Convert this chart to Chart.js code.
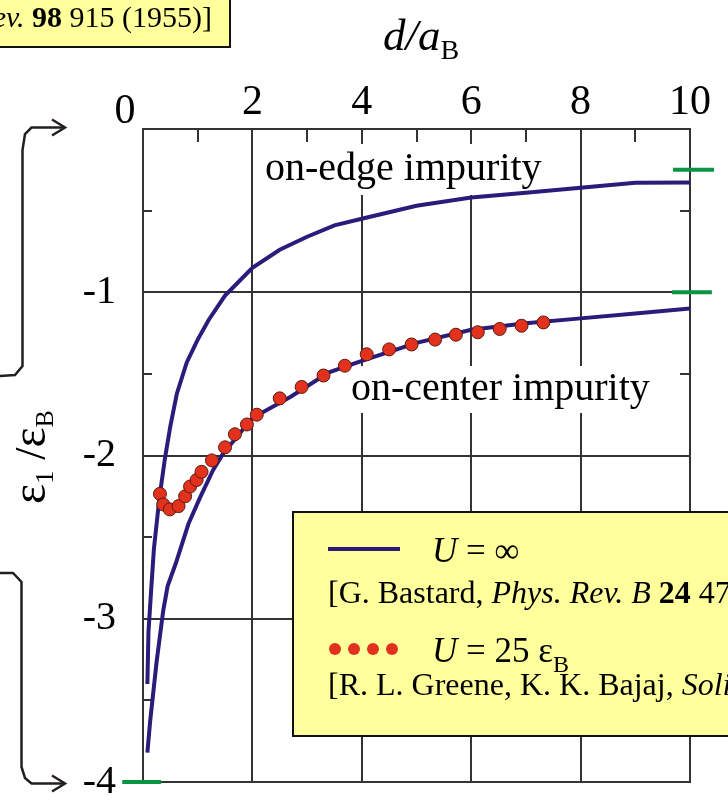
<!DOCTYPE html>
<html>
<head>
<meta charset="utf-8">
<script src="https://cdn.jsdelivr.net/npm/chart.js@4.4.1/dist/chart.umd.min.js"></script>
<style>
  html, body { margin: 0; padding: 0; background: #fff; }
  #wrap { position: relative; width: 728px; height: 807px; }
</style>
</head>
<body>
<div id="wrap"><canvas id="bindingChart"></canvas></div>
<script>
// ============================
// Data
// ============================
const xTicks = [0, 2, 4, 6, 8, 10];
const yTicks = [0, -1, -2, -3, -4];
const xMinor = [1, 3, 5, 7, 9];
const yMinorLeft = [-0.5, -1.5, -2.5, -3.5];
const yMinorRight = [-0.5, -1.5];

// U = infinity, on-edge impurity
const edgeX = [0.08, 0.1, 0.15, 0.2, 0.3, 0.4, 0.5, 0.62, 0.8, 1.0, 1.2, 1.5, 2.0, 2.5, 3.0, 3.5, 4.0, 5.0, 6.0, 7.0, 8.0, 9.0, 10];
const edgeY = [-3.40, -3.08, -2.82, -2.57, -2.26, -2.02, -1.82, -1.62, -1.43, -1.29, -1.17, -1.02, -0.85, -0.74, -0.66, -0.59, -0.55, -0.47, -0.42, -0.39, -0.36, -0.33, -0.327];

// U = infinity, on-center impurity
const centerX = [0.08, 0.13, 0.25, 0.37, 0.45, 0.6, 0.83, 1.04, 1.28, 1.46, 2.0, 2.7, 3.4, 4.0, 5.0, 6.0, 7.0, 8.0, 9.0, 10];
const centerY = [-3.82, -3.63, -3.26, -2.95, -2.80, -2.66, -2.42, -2.26, -2.09, -1.99, -1.77, -1.64, -1.49, -1.42, -1.31, -1.23, -1.19, -1.16, -1.13, -1.10];

// U = 25 eps_B
const dotX = [0.31, 0.37, 0.49, 0.65, 0.77, 0.86, 0.98, 1.07, 1.26, 1.50, 1.68, 1.90, 2.08, 2.50, 2.90, 3.30, 3.69, 4.09, 4.50, 4.91, 5.34, 5.72, 6.12, 6.52, 6.92, 7.32];
const dotY = [-2.235, -2.30, -2.33, -2.31, -2.25, -2.19, -2.15, -2.10, -2.03, -1.95, -1.87, -1.81, -1.75, -1.65, -1.58, -1.51, -1.45, -1.38, -1.35, -1.32, -1.29, -1.26, -1.245, -1.225, -1.205, -1.185];

// green limit markers
const markLevels = [-0.25, -1, -4];
const markFrom = [9.69, 9.67, -0.38];
const markTo = [10.44, 10.40, 0.33];

// ============================
// Helpers
// ============================
const SERIF = '"Liberation Serif", "Times New Roman", Times, serif';
const font = (size, style) => (style ? style + ' ' : '') + size + 'px ' + SERIF;

const NAVY = "#2b1b7b";
const RED = "#e2321e";
const GREEN = "#0b9444";
const YELLOW = "#ffff9c";

function pts(xs, ys) {
    return xs.map((x, i) => ({ x: x, y: ys[i] }));
}

// draw a run of text pieces: [text, font, dy]
function drawRuns(ctx, x, y, parts, align) {
    let w = 0;
    parts.forEach(p => { ctx.font = p[1]; w += ctx.measureText(p[0]).width; });
    let cx = align === "right" ? x - w : align === "center" ? x - w / 2 : x;
    ctx.textAlign = "left";
    ctx.textBaseline = "alphabetic";
    parts.forEach(p => {
        ctx.font = p[1];
        ctx.fillText(p[0], cx, y + (p[2] || 0));
        cx += ctx.measureText(p[0]).width;
    });
}

function bracket(ctx, pts, tip) {
    ctx.beginPath();
    ctx.moveTo(pts[0][0], pts[0][1]);
    for (let i = 1; i < pts.length; i++) ctx.lineTo(pts[i][0], pts[i][1]);
    ctx.stroke();
    ctx.beginPath();
    ctx.moveTo(tip[0] - 13, tip[1] - 8);
    ctx.lineTo(tip[0], tip[1]);
    ctx.lineTo(tip[0] - 13, tip[1] + 8);
    ctx.stroke();
}

// ============================
// Decorations plugin
// ============================
const decor = {
    id: "decor",
    beforeDatasetsDraw(chart) {
        const { ctx, chartArea: a } = chart;
        ctx.save();
        // white backing behind the curve labels
        ctx.fillStyle = "#fff";
        ctx.fillRect(262, 144, 284, 51);
        ctx.fillRect(347, 366, 305, 47);
        // frame
        ctx.strokeStyle = "#333";
        ctx.lineWidth = 2;
        ctx.strokeRect(a.left, a.top, a.right - a.left, a.bottom - a.top);
        // minor ticks
        const xs = chart.scales.x, ys = chart.scales.y;
        ctx.beginPath();
        xMinor.forEach(v => {
            const px = Math.round(xs.getPixelForValue(v));
            ctx.moveTo(px, a.top); ctx.lineTo(px, a.top + 13);
        });
        yMinorLeft.forEach(v => {
            const py = Math.round(ys.getPixelForValue(v));
            ctx.moveTo(a.left, py); ctx.lineTo(a.left + 9, py);
        });
        yMinorRight.forEach(v => {
            const py = Math.round(ys.getPixelForValue(v));
            ctx.moveTo(a.right - 10, py); ctx.lineTo(a.right, py);
        });
        ctx.stroke();
        ctx.restore();
    },
    afterDraw(chart) {
        const { ctx } = chart;
        const xs = chart.scales.x;
        ctx.save();
        ctx.fillStyle = "#000";

        // "0" tick label sits left of the axis corner
        ctx.font = font(42);
        ctx.textAlign = "center";
        ctx.fillText("0", xs.getPixelForValue(0) - 18, 123);

        // axis titles
        drawRuns(ctx, 383, 50, [["d/a", font(45, "italic")], ["B", font(28), 9]]);
        ctx.save();
        ctx.translate(45, 504);
        ctx.rotate(-Math.PI / 2);
        drawRuns(ctx, 0, 0, [["ε", font(48)], ["1", font(26), 8], [" /", font(44)], ["ε", font(48)], ["B", font(26), 8]]);
        ctx.restore();

        // curve labels
        drawRuns(ctx, 265, 180, [["on-edge impurity", font(40)]]);
        drawRuns(ctx, 351, 400, [["on-center impurity", font(40)]]);

        // reference box at top left
        ctx.fillStyle = YELLOW;
        ctx.fillRect(-5, -5, 235, 52);
        ctx.strokeStyle = "#111";
        ctx.lineWidth = 2;
        ctx.strokeRect(-5, -5, 235, 52);
        ctx.fillStyle = "#000";
        drawRuns(ctx, 212, 27, [
            ["[W. Kohn, J. M. Luttinger, ", font(30)],
            ["Phys. Rev.", font(30, "italic")],
            [" ", font(30)],
            ["98", font(30, "bold")],
            [" 915 (1955)]", font(30)]
        ], "right");

        // legend box
        ctx.fillStyle = YELLOW;
        ctx.fillRect(293, 512, 450, 224);
        ctx.strokeStyle = "#111";
        ctx.lineWidth = 2;
        ctx.strokeRect(293, 512, 450, 224);

        ctx.strokeStyle = NAVY;
        ctx.lineWidth = 4;
        ctx.beginPath();
        ctx.moveTo(328, 549); ctx.lineTo(400, 549);
        ctx.stroke();

        ctx.fillStyle = RED;
        [335, 354, 373, 392].forEach(px => {
            ctx.beginPath();
            ctx.arc(px, 649, 6, 0, Math.PI * 2);
            ctx.fill();
        });

        ctx.fillStyle = "#000";
        drawRuns(ctx, 432, 562, [["U", font(35, "italic")], [" = ∞", font(35)]]);
        drawRuns(ctx, 328, 603, [
            ["[G. Bastard, ", font(32)],
            ["Phys. Rev. B", font(32, "italic")],
            [" ", font(32)],
            ["24", font(32, "bold")],
            [" 4714 (1981)]", font(32)]
        ]);
        drawRuns(ctx, 432, 662, [["U", font(35, "italic")], [" = 25 ε", font(35)], ["B", font(24), 10]]);
        drawRuns(ctx, 328, 695, [
            ["[R. L. Greene, K. K. Bajaj, ", font(32)],
            ["Solid State Commun.", font(32, "italic")],
            [" ", font(32)],
            ["45", font(32, "bold")],
            [" 825 (1983)]", font(32)]
        ]);

        // brackets with arrows on the left
        ctx.strokeStyle = "#231f20";
        ctx.lineWidth = 2.5;
        bracket(ctx, [[-2, 376], [15, 375], [22.5, 366], [22.5, 150], [25, 134], [31.5, 127.5], [65, 127.5]], [65, 127.5]);
        bracket(ctx, [[-2, 573], [13, 573], [21.5, 582], [21.5, 767], [25, 778], [31.5, 783.5], [65, 783.5]], [65, 783.5]);

        ctx.restore();
    }
};

// ============================
// Chart
// ============================
const datasets = [
    {
        label: "U = 25",
        data: pts(dotX, dotY),
        showLine: false,
        pointRadius: 6.5,
        pointBackgroundColor: RED,
        pointBorderColor: "#5a1a10",
        pointBorderWidth: 1,
        order: 0
    },
    {
        label: "on-edge",
        data: pts(edgeX, edgeY),
        borderColor: NAVY,
        borderWidth: 4,
        pointRadius: 0,
        tension: 0,
        order: 1
    },
    {
        label: "on-center",
        data: pts(centerX, centerY),
        borderColor: NAVY,
        borderWidth: 4,
        pointRadius: 0,
        tension: 0,
        order: 1
    }
];

markLevels.forEach((lvl, i) => {
    datasets.push({
        label: "limit " + lvl,
        data: [{ x: markFrom[i], y: lvl }, { x: markTo[i], y: lvl }],
        borderColor: GREEN,
        borderWidth: 4,
        pointRadius: 0,
        clip: false,
        order: 2
    });
});

new Chart(document.getElementById("bindingChart"), {
    type: "line",
    data: { datasets: datasets },
    options: {
        responsive: true,
        maintainAspectRatio: false,
        animation: false,
        layout: { padding: { left: 0, top: 0, right: 38, bottom: 25 } },
        plugins: {
            legend: { display: false },
            tooltip: { enabled: false }
        },
        scales: {
            x: {
                type: "linear",
                position: "top",
                min: 0,
                max: 10,
                afterBuildTicks: s => { s.ticks = xTicks.map(v => ({ value: v })); },
                afterFit: s => { s.height = 129; s.paddingLeft = 0; s.paddingRight = 0; },
                grid: { color: "#333", lineWidth: 2, drawTicks: false },
                border: { display: false },
                ticks: {
                    padding: 1,
                    color: "#000",
                    font: { family: SERIF, size: 42 },
                    callback: v => (v === 0 ? "" : String(v))
                }
            },
            y: {
                type: "linear",
                min: -4,
                max: 0,
                afterBuildTicks: s => { s.ticks = yTicks.map(v => ({ value: v })); },
                afterFit: s => { s.width = 143; s.paddingTop = 0; s.paddingBottom = 0; },
                grid: { color: "#333", lineWidth: 2, drawTicks: false },
                border: { display: false },
                ticks: {
                    padding: 27,
                    color: "#000",
                    font: { family: SERIF, size: 40 },
                    callback: v => (v === 0 ? "" : String(v))
                }
            }
        }
    },
    plugins: [decor]
});
</script>
</body>
</html>
